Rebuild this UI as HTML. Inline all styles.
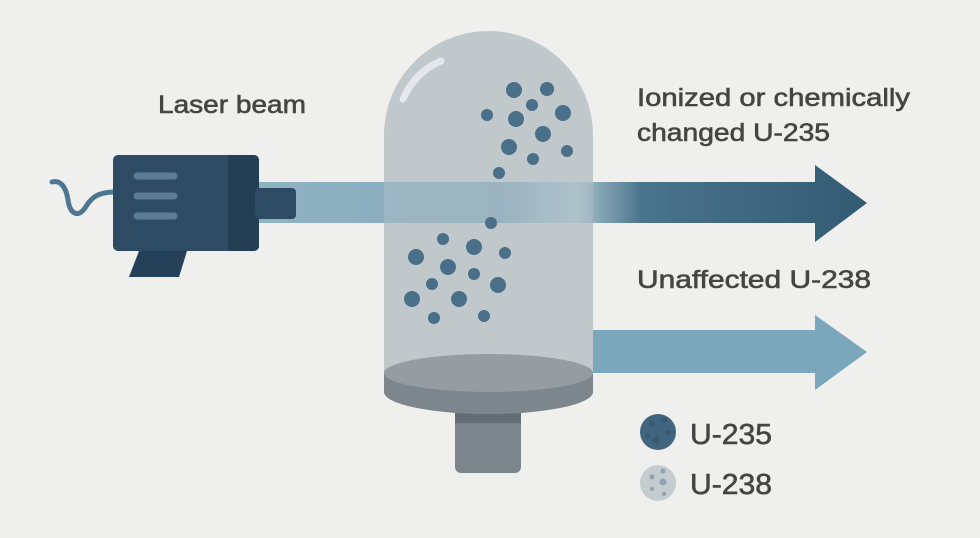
<!DOCTYPE html>
<html><head><style>html,body{margin:0;padding:0;background:#efefee;}svg{display:block}</style></head>
<body>
<svg width="980" height="538" viewBox="0 0 980 538" xmlns="http://www.w3.org/2000/svg" font-family="Liberation Sans, sans-serif">
<defs>
<linearGradient id="bm" gradientUnits="userSpaceOnUse" x1="259" x2="867" y1="0" y2="0">
<stop offset="0" stop-color="#8fb3c3"/>
<stop offset="0.4" stop-color="#86aabb"/>
<stop offset="0.52" stop-color="#a9c3cf"/>
<stop offset="0.63" stop-color="#4a748c"/>
<stop offset="1" stop-color="#335a73"/>
</linearGradient>
</defs>
<rect width="980" height="538" fill="#efefee"/>
<!-- cable -->
<path d="M115,192 C95,192 90,200 85,208 C78,218 70,214 68,200 C66,186 60,180 52,182" fill="none" stroke="#4f7690" stroke-width="5" stroke-linecap="round"/>
<!-- upper beam -->
<path d="M259,182 L815,182 L815,165 L867,203 L815,242 L815,223 L259,223 Z" fill="url(#bm)"/>
<!-- lower arrow -->
<path d="M593,330 L815,330 L815,315 L867,352 L815,390 L815,373 L593,373 Z" fill="#7aa7bc"/>
<!-- cylinder -->
<path d="M384,380 L384,135 A104.5,104 0 0 1 593,135 L593,380 Z" fill="#b9c1c6" opacity="0.85"/>
<rect x="384" y="182" width="209" height="41" fill="url(#bm)" opacity="0.55"/>
<path d="M403,99 Q415,72 441,61" fill="none" stroke="#e4e8ea" stroke-width="7" stroke-linecap="round"/>
<g fill="#4a6f88">
<circle cx="514" cy="90" r="8"/><circle cx="547" cy="89" r="7"/><circle cx="532" cy="105" r="6"/>
<circle cx="487" cy="115" r="6"/><circle cx="516" cy="119" r="8"/><circle cx="563" cy="113" r="8"/>
<circle cx="543" cy="134" r="8"/><circle cx="509" cy="147" r="8"/><circle cx="533" cy="159" r="6"/>
<circle cx="567" cy="151" r="6"/><circle cx="499" cy="173" r="6"/>
<circle cx="491" cy="223" r="6"/><circle cx="443" cy="239" r="6"/><circle cx="474" cy="247" r="8"/>
<circle cx="505" cy="253" r="6"/><circle cx="416" cy="257" r="8"/><circle cx="448" cy="267" r="8"/>
<circle cx="474" cy="274" r="6"/><circle cx="432" cy="284" r="6"/><circle cx="498" cy="285" r="8"/>
<circle cx="412" cy="299" r="8"/><circle cx="459" cy="299" r="8"/><circle cx="434" cy="318" r="6"/>
<circle cx="484" cy="316" r="6"/>
</g>
<!-- base -->
<rect x="455" y="390" width="66" height="83" rx="6" fill="#7c858b"/>
<rect x="455" y="405" width="66" height="18" fill="#646d73"/>
<path d="M384,373 L384,392 A104.5,22 0 0 0 593,392 L593,373 Z" fill="#7d868c"/>
<ellipse cx="488.5" cy="373" rx="104.5" ry="19" fill="#959da2"/>
<!-- laser -->
<path d="M139,251 L187,251 L179,277 L129,277 Z" fill="#25415a"/>
<rect x="113" y="155" width="146" height="96" rx="5" fill="#2d4b63"/>
<path d="M228,155 L254,155 A5,5 0 0 1 259,160 L259,246 A5,5 0 0 1 254,251 L228,251 Z" fill="#243e54"/>
<rect x="255" y="188" width="41" height="31" rx="4" fill="#2d4b63"/>
<g stroke="#5a7d95" stroke-width="7" stroke-linecap="round">
<line x1="137" y1="176" x2="174" y2="176"/><line x1="137" y1="196" x2="174" y2="196"/><line x1="137" y1="216" x2="174" y2="216"/>
</g>
<!-- labels -->
<g fill="#454545" font-size="25" stroke="#454545" stroke-width="0.6">
<text x="158" y="113" textLength="148" lengthAdjust="spacingAndGlyphs">Laser beam</text>
<text x="637" y="106" textLength="273" lengthAdjust="spacingAndGlyphs">Ionized or chemically</text>
<text x="637" y="141" textLength="193" lengthAdjust="spacingAndGlyphs">changed U-235</text>
<text x="637" y="288" textLength="234" lengthAdjust="spacingAndGlyphs">Unaffected U-238</text>
<text x="690" y="444" font-size="29" textLength="82" lengthAdjust="spacingAndGlyphs">U-235</text>
<text x="690" y="494" font-size="29" textLength="82" lengthAdjust="spacingAndGlyphs">U-238</text>
</g>
<!-- legend -->
<circle cx="658" cy="432" r="18" fill="#41657e"/>
<g fill="#365a72"><circle cx="652" cy="424" r="3"/><circle cx="664" cy="420" r="3"/><circle cx="668" cy="433" r="2.5"/><circle cx="656" cy="440" r="3.5"/><circle cx="648" cy="436" r="2.5"/></g>
<circle cx="658" cy="483" r="18" fill="#c5ccd0"/>
<g fill="#8ea3b0"><circle cx="652" cy="477" r="2.5"/><circle cx="663" cy="471" r="2.5"/><circle cx="663" cy="482" r="3.5"/><circle cx="652" cy="489" r="2"/><circle cx="664" cy="494" r="2"/></g>
</svg>
</body></html>
